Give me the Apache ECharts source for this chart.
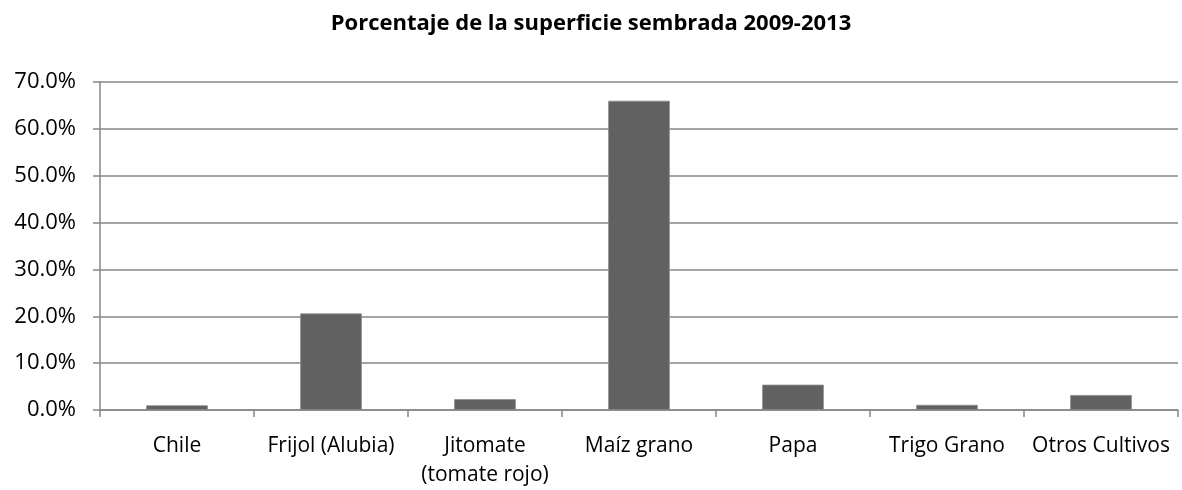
<!DOCTYPE html>
<html>
<head>
<meta charset="utf-8">
<script src="https://cdn.jsdelivr.net/npm/echarts@6/dist/echarts.min.js"></script>
<style>
  html, body { margin: 0; padding: 0; background: #fff; }
  #chart { width: 1182px; height: 490px; }
</style>
</head>
<body>
<div id="chart"></div>
<script>
// datos
var categorias = ['Chile', 'Frijol (Alubia)', 'Jitomate\n(tomate rojo)', 'Maíz grano', 'Papa', 'Trigo Grano', 'Otros Cultivos'];
var porcentajes = [1.0, 20.6, 2.3, 66.0, 5.4, 1.1, 3.2];
var ticksY = [0, 10, 20, 30, 40, 50, 60, 70];

var fuente = 'Open Sans';
var gris = '#868686';

var myChart = echarts.init(document.getElementById('chart'));
var option = {
    backgroundColor: '#fff',
    animation: false,
    title: {
        text: 'Porcentaje de la superficie sembrada 2009-2013',
        left: 'center',
        top: 8,
        textStyle: { fontFamily: fuente, fontWeight: 'bold', fontSize: 22, color: '#000' }
    },
    grid: { left: 100, right: 4, top: 82, bottom: 79 },
    xAxis: {
        type: 'category',
        data: categorias,
        axisLine: { lineStyle: { color: gris, width: 1.5 } },
        axisTick: { show: true, length: 7, lineStyle: { color: gris, width: 1.5 } },
        axisLabel: { fontFamily: fuente, fontSize: 21, color: '#000', margin: 22, lineHeight: 29, interval: 0 }
    },
    yAxis: {
        type: 'value',
        min: ticksY[0],
        max: ticksY[ticksY.length - 1],
        interval: 10,
        axisLine: { show: true, lineStyle: { color: gris, width: 1.5 } },
        axisTick: { show: true, length: 7, lineStyle: { color: gris, width: 1.5 } },
        splitLine: { lineStyle: { color: gris, width: 1.5 } },
        axisLabel: {
            fontFamily: fuente, fontSize: 22, color: '#000', margin: 24,
            formatter: function (v) { return v.toFixed(1) + '%'; }
        }
    },
    series: [{
        type: 'bar',
        data: porcentajes,
        barWidth: '40%',
        itemStyle: { color: '#616161', borderColor: '#8a8a8a', borderWidth: 0.8 }
    }]
};
myChart.setOption(option);
</script>
</body>
</html>
